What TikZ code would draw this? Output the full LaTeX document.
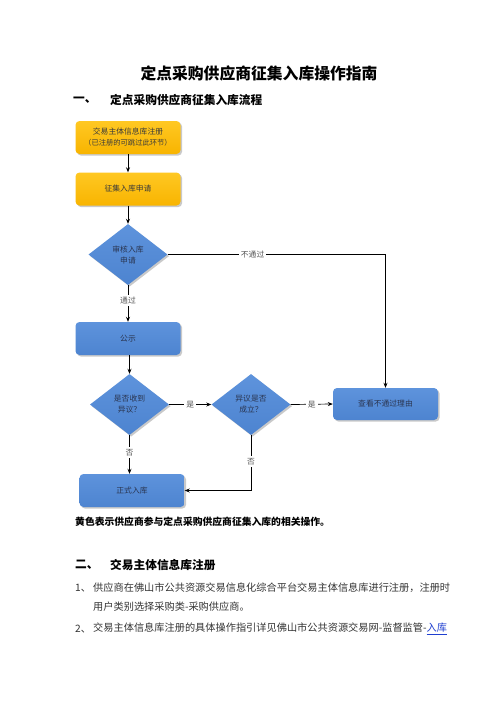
\documentclass[tikz,border=0pt]{standalone}
\usepackage{fontspec}
\newfontfamily\cjk{Noto Sans CJK SC}
\usetikzlibrary{shapes.geometric,shadows,arrows.meta}
\definecolor{ylwtop}{HTML}{FFC823}
\definecolor{ylwbot}{HTML}{F8B400}
\definecolor{blutop}{HTML}{5E93DC}
\definecolor{blubot}{HTML}{4D84D0}
\definecolor{boxtxt}{HTML}{3A3A3A}
\definecolor{blutxt}{HTML}{2A3550}
\definecolor{lbltxt}{HTML}{555555}
\definecolor{bodytxt}{HTML}{333333}
\definecolor{linkblue}{HTML}{1F3FD0}
\tikzset{
  shade/.style={drop shadow={shadow xshift=1.6pt,shadow yshift=-1.6pt,opacity=0.35,fill=black!60}},
  ybox/.style={shade,rectangle,rounded corners=4pt,top color=ylwtop,bottom color=ylwbot,draw=none,
    minimum width=105pt,minimum height=33pt,inner sep=1pt,align=center,text=boxtxt,
    font=\cjk\fontsize{7.8}{13}\selectfont},
  bbox/.style={shade,rectangle,rounded corners=4pt,top color=blutop,bottom color=blubot,draw=none,
    minimum width=105pt,minimum height=33pt,inner sep=1pt,align=center,text=blutxt,
    font=\cjk\fontsize{7.8}{13}\selectfont},
  bdia/.style={shade,diamond,top color=blutop,bottom color=blubot,draw=none,
    minimum width=79pt,minimum height=61pt,inner sep=0pt,align=center,text=blutxt,
    font=\cjk\fontsize{7.8}{13}\selectfont},
  conn/.style={draw=black,line width=0.7pt,-{Stealth[length=5pt,width=4pt]}},
  plain/.style={draw=black,line width=0.7pt},
  lbl/.style={fill=white,inner sep=2pt,text=lbltxt,font=\cjk\fontsize{7.8}{9}\selectfont},
  body/.style={anchor=west,inner sep=0pt,text=bodytxt,font=\cjk\fontsize{10.2}{12}\selectfont},
  head/.style={anchor=west,inner sep=0pt,text=black,font=\cjk\bfseries\fontsize{11.7}{13}\selectfont}
}
\begin{document}
\begin{tikzpicture}[x=1pt,y=-1pt]
\useasboundingbox[fill=white] (0,0) rectangle (496,702);
% title and heading
\node[inner sep=0pt,font=\cjk\bfseries\fontsize{15.8}{18}\selectfont] (title) at (259,73) {定点采购供应商征集入库操作指南};
\node[head] (h1n) at (73,100) {一、};
\node[head] (h1) at (110,100) {定点采购供应商征集入库流程};
% flowchart nodes
\node[ybox] (reg) at (128,137.5) {交易主体信息库注册\\[-2pt]{\fontsize{7.3}{9}\selectfont（已注册的可跳过此环节）}};
\node[ybox] (apply) at (128,189) {征集入库申请};
\node[bdia] (audit) at (128,254.5) {审核入库\\[-2pt]申请};
\node[bbox] (pub) at (128,338.5) {公示};
\node[bdia] (obj) at (129.5,404.5) {是否收到\\[-2pt]异议？};
\node[bdia] (valid) at (251,404.5) {异议是否\\[-2pt]成立？};
\node[bbox,minimum height=32pt] (reason) at (385.5,404) {查看不通过理由};
\node[bbox] (final) at (132,490.5) {正式入库};
\coordinate (corner) at (385.5,254.5);
% connectors
\draw[conn] (reg) -- (apply);
\draw[conn] (apply) -- (audit);
\draw[plain] (audit.east) -- node[lbl,pos=0.39] {不通过} (corner);
\draw[conn] (corner) -- (reason.north);
\draw[conn] (audit.south) -- node[lbl,pos=0.43] {通过} (audit.south |- pub.north);
\draw[conn] (pub.south -| obj.north) -- (obj.north);
\draw[conn] (obj.east) -- node[lbl] {是} (valid.west);
\draw[conn] (valid.east) -- node[lbl] {是} (reason.west);
\draw[conn] (obj.south) -- node[lbl,pos=0.45] {否} (obj.south |- final.north);
\draw[conn] (valid.south) |- node[lbl,pos=0.24] {否} (final.east);
% caption
\node[anchor=west,inner sep=0pt,text=black,font=\cjk\bfseries\fontsize{9.8}{11}\selectfont] (cap) at (75,522) {黄色表示供应商参与定点采购供应商征集入库的相关操作。};
% section two
\node[head] (h2n) at (75,565) {二、};
\node[head] (h2) at (110,565) {交易主体信息库注册};
\node[body] (n1) at (75,588) {1、};
\node[body] (t1) at (93,588) {供应商在佛山市公共资源交易信息化综合平台交易主体信息库进行注册，注册时};
\node[body] (t1b) at (93,607) {用户类别选择采购类-采购供应商。};
\node[body] (n2) at (75,629) {2、};
\node[body] (t2) at (93,629) {交易主体信息库注册的具体操作指引详见佛山市公共资源交易网-监督监管-{\color{linkblue}\underline{入库}}};
\end{tikzpicture}
\end{document}
